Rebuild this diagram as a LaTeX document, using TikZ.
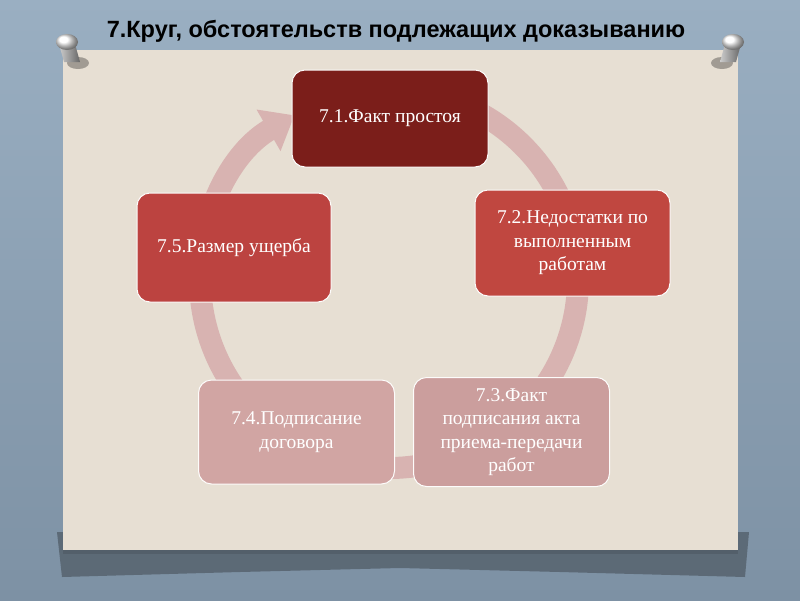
\documentclass[tikz,border=0pt]{standalone}
\usepackage{fontspec}
\setmainfont{Liberation Serif}
\setsansfont{Liberation Sans}
\usepackage{xcolor}
\usetikzlibrary{arrows.meta}
\definecolor{fondhaut}{HTML}{9AAFC2}
\definecolor{fondbas}{HTML}{7D91A4}
\definecolor{papier}{HTML}{E7DFD3}
\definecolor{ombre}{HTML}{4E5963}
\definecolor{anneau}{HTML}{D8B3B1}
\definecolor{rougefonce}{HTML}{7B1E1A}
\definecolor{rouge}{HTML}{C04740}
\definecolor{rougebis}{HTML}{BC4340}
\definecolor{rose}{HTML}{CB9E9D}
\definecolor{roseclair}{HTML}{D1A5A3}
\tikzset{
Bloc/.style={
 draw=white!90!papier,
 line width=1pt,
 rounded corners=13pt,
 text=white,
 align=center,
 inner sep=0pt,
 font=\fontsize{19.5}{23.5}\selectfont
 },
Anneau/.style={
 draw=anneau,
 line width=22pt,
 -{Triangle[length=30pt,width=46pt]}
 },
Titre/.style={
 font=\sffamily\bfseries\fontsize{23.5}{26}\selectfont,
 text=black
 }
}

\begin{document}
\begin{tikzpicture}[x=1pt,y=1pt]
\useasboundingbox (0,0) rectangle (800,-600);
% fond et feuille
\shade[top color=fondhaut, bottom color=fondbas] (0,0) rectangle (800,-600);
\fill[ombre,opacity=.7] (57,-532) -- (749,-532) -- (745,-577) -- (560,-572) -- (400,-568) -- (240,-572) -- (62,-577) -- cycle;
\fill[papier] (63,-50) rectangle (738,-550);
\fill[ombre,opacity=.6] (63,-550) rectangle (738,-554);
% punaises
\foreach \px/\sx in {67/1,733/-1}{
 \fill[black,opacity=.3] (\px+11*\sx,-63) ellipse (11 and 6);
 \shade[left color=gray!40, right color=gray!80!black] (\px-8,-44) -- (\px+8,-44) -- (\px+8+5*\sx,-62) -- (\px-8+5*\sx,-62) -- cycle;
 \shade[ball color=white] (\px,-42) ellipse (11 and 8);
}
% titre
\node[Titre] (titre) at (396,-31) {7.Круг, обстоятельств подлежащих доказыванию};
% cercle
\coordinate (centre) at (389,-279);
\draw[Anneau] ([shift={(100:189pt)}]centre) arc (100:-240:189pt);
% blocs
\node[Bloc, fill=rougefonce, minimum width=196pt, minimum height=97pt] (f1) at (390,-118.5) {7.1.Факт простоя};
\node[Bloc, fill=rouge, minimum width=195pt, minimum height=106pt] (f2) at (572.5,-243) {7.2.Недостатки по\\выполненным\\работам};
\node[Bloc, fill=rose, minimum width=196pt, minimum height=109pt] (f3) at (511.5,-432) {7.3.Факт\\подписания акта\\приема-передачи\\работ};
\node[Bloc, fill=roseclair, minimum width=196pt, minimum height=104pt] (f4) at (296.5,-432) {7.4.Подписание\\договора};
\node[Bloc, fill=rougebis, minimum width=194pt, minimum height=109pt] (f5) at (234,-247.5) {7.5.Размер ущерба};
\end{tikzpicture}
\end{document}
